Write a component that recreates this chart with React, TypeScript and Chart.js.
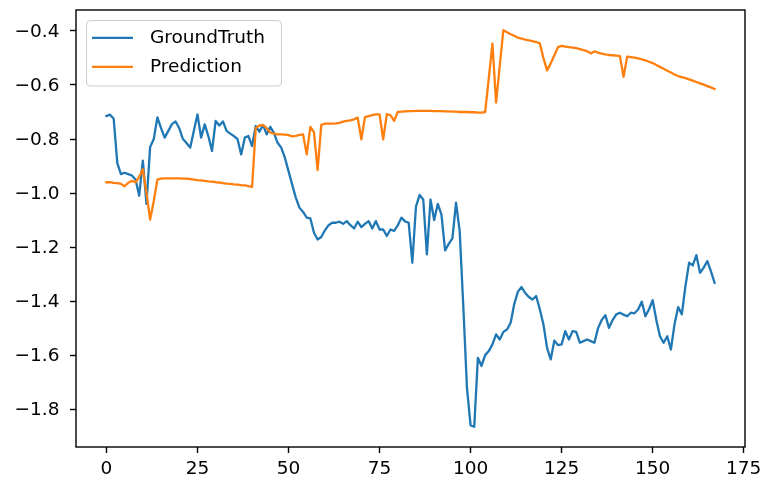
import React, { useEffect, useRef } from "react";
import { Chart, registerables } from "chart.js";

Chart.register(...registerables);

// ---- data ----
const seriesNames = ["GroundTruth", "Prediction"];
const seriesColors = ["#1f77b4", "#ff7f0e"];

const groundTruth = [
  -0.715, -0.710, -0.725, -0.890, -0.930, -0.925, -0.930, -0.935, -0.950, -1.010,
  -0.880, -1.040, -0.830, -0.800, -0.720, -0.760, -0.795, -0.770, -0.745, -0.735,
  -0.760, -0.800, -0.815, -0.832, -0.770, -0.709, -0.795, -0.746, -0.790, -0.844,
  -0.733, -0.750, -0.735, -0.770, -0.780, -0.789, -0.800, -0.857, -0.795, -0.789,
  -0.826, -0.752, -0.773, -0.748, -0.783, -0.755, -0.777, -0.814, -0.832, -0.869,
  -0.919, -0.968, -1.017, -1.054, -1.070, -1.091, -1.094, -1.147, -1.172, -1.163,
  -1.138, -1.119, -1.110, -1.110, -1.106, -1.114, -1.104, -1.119, -1.131, -1.106,
  -1.126, -1.114, -1.104, -1.131, -1.104, -1.135, -1.135, -1.159, -1.135, -1.140,
  -1.120, -1.091, -1.105, -1.110, -1.258, -1.050, -1.007, -1.024, -1.227, -1.024,
  -1.100, -1.040, -1.080, -1.212, -1.188, -1.168, -1.036, -1.140, -1.420, -1.720,
  -1.860, -1.865, -1.610, -1.640, -1.600, -1.585, -1.560, -1.523, -1.542, -1.514,
  -1.505, -1.480, -1.410, -1.365, -1.348, -1.370, -1.385, -1.394, -1.381, -1.430,
  -1.486, -1.573, -1.616, -1.546, -1.563, -1.560, -1.511, -1.542, -1.511, -1.514,
  -1.554, -1.548, -1.542, -1.548, -1.554, -1.500, -1.470, -1.452, -1.499, -1.470,
  -1.449, -1.443, -1.450, -1.456, -1.443, -1.445, -1.431, -1.402, -1.456, -1.430,
  -1.397, -1.470, -1.530, -1.554, -1.530, -1.579, -1.486, -1.422, -1.449, -1.344,
  -1.258, -1.268, -1.230, -1.295, -1.276, -1.252, -1.290, -1.332,
];

const prediction = [
  -0.960, -0.960, -0.962, -0.963, -0.966, -0.975, -0.962, -0.955, -0.960, -0.940,
  -0.912, -1.000, -1.098, -1.030, -0.950, -0.947, -0.946, -0.946, -0.946, -0.946,
  -0.946, -0.947, -0.947, -0.948, -0.950, -0.952, -0.953, -0.955, -0.957, -0.958,
  -0.960, -0.961, -0.963, -0.965, -0.966, -0.968, -0.969, -0.971, -0.972, -0.974,
  -0.977, -0.760, -0.750, -0.748, -0.760, -0.776, -0.780, -0.783, -0.783, -0.784,
  -0.786, -0.790, -0.788, -0.785, -0.783, -0.857, -0.755, -0.775, -0.915, -0.748,
  -0.743, -0.743, -0.743, -0.742, -0.740, -0.736, -0.733, -0.731, -0.727, -0.721,
  -0.801, -0.719, -0.715, -0.712, -0.709, -0.709, -0.801, -0.708, -0.712, -0.733,
  -0.700, -0.699, -0.698, -0.697, -0.697, -0.696, -0.696, -0.696, -0.696, -0.696,
  -0.697, -0.697, -0.697, -0.698, -0.698, -0.699, -0.699, -0.700, -0.700, -0.700,
  -0.701, -0.701, -0.702, -0.702, -0.700, -0.575, -0.447, -0.665, -0.530, -0.397,
  -0.405, -0.412, -0.418, -0.425, -0.428, -0.432, -0.435, -0.438, -0.441, -0.446,
  -0.500, -0.546, -0.520, -0.490, -0.460, -0.455, -0.458, -0.460, -0.462, -0.464,
  -0.467, -0.471, -0.475, -0.483, -0.476, -0.480, -0.484, -0.487, -0.489, -0.490,
  -0.491, -0.493, -0.570, -0.495, -0.497, -0.499, -0.502, -0.505, -0.509, -0.514,
  -0.519, -0.526, -0.533, -0.540, -0.547, -0.554, -0.561, -0.567, -0.571, -0.575,
  -0.579, -0.584, -0.589, -0.594, -0.599, -0.604, -0.609, -0.615,
];

const xTicks = [0, 25, 50, 75, 100, 125, 150, 175];
const yTicks = [-1.8, -1.6, -1.4, -1.2, -1.0, -0.8, -0.6, -0.4];

const FONT = '"DejaVu Sans", "Liberation Sans", sans-serif';
const FONT_SIZE = 18.5;

const framePlugin = {
  id: "frame",
  afterDraw(chart: any) {
    const { ctx, chartArea } = chart;
    ctx.save();
    ctx.strokeStyle = "#000";
    ctx.lineWidth = 1.4;
    ctx.strokeRect(chartArea.left, chartArea.top, chartArea.right - chartArea.left, chartArea.bottom - chartArea.top);
    ctx.restore();
  },
};

const legendPlugin = {
  id: "mplLegend",
  afterDraw(chart: any) {
    const ctx = chart.ctx;
    ctx.save();
    const x = 86.5, y = 20.5, w = 195, h = 65.5, r = 4;
    ctx.beginPath();
    ctx.moveTo(x + r, y);
    ctx.lineTo(x + w - r, y);
    ctx.quadraticCurveTo(x + w, y, x + w, y + r);
    ctx.lineTo(x + w, y + h - r);
    ctx.quadraticCurveTo(x + w, y + h, x + w - r, y + h);
    ctx.lineTo(x + r, y + h);
    ctx.quadraticCurveTo(x, y + h, x, y + h - r);
    ctx.lineTo(x, y + r);
    ctx.quadraticCurveTo(x, y, x + r, y);
    ctx.closePath();
    ctx.fillStyle = "rgba(255,255,255,0.8)";
    ctx.fill();
    ctx.strokeStyle = "#cccccc";
    ctx.lineWidth = 1;
    ctx.stroke();
    const rows = [37.8, 66.8];
    seriesNames.forEach((name, i) => {
      ctx.strokeStyle = seriesColors[i];
      ctx.lineWidth = 2.3;
      ctx.lineCap = "butt";
      ctx.beginPath();
      ctx.moveTo(92, rows[i]);
      ctx.lineTo(133, rows[i]);
      ctx.stroke();
      ctx.fillStyle = "#000";
      ctx.font = `${FONT_SIZE}px ${FONT}`;
      ctx.textBaseline = "middle";
      ctx.textAlign = "left";
      ctx.fillText(name, 150, rows[i]);
    });
    ctx.restore();
  },
};

function fmtY(v: number) {
  const s = Math.abs(v).toFixed(1);
  return v < 0 ? "\u2212" + s : s;
}

export default function App() {
  const ref = useRef<HTMLCanvasElement | null>(null);
  useEffect(() => {
    if (!ref.current) return;
    const chart = new Chart(ref.current, {
      type: "line",
      data: {
        datasets: [
          {
            label: seriesNames[0],
            data: groundTruth.map((v, i) => ({ x: i, y: v })),
            borderColor: seriesColors[0],
            backgroundColor: seriesColors[0],
            borderWidth: 2.3,
            pointRadius: 0,
            tension: 0,
            borderJoinStyle: "round",
            borderCapStyle: "square",
            order: 1,
          },
          {
            label: seriesNames[1],
            data: prediction.map((v, i) => ({ x: i, y: v })),
            borderColor: seriesColors[1],
            backgroundColor: seriesColors[1],
            borderWidth: 2.3,
            pointRadius: 0,
            tension: 0,
            borderJoinStyle: "round",
            borderCapStyle: "square",
            order: 0,
          },
        ],
      },
      options: {
        animation: false,
        responsive: false,
        devicePixelRatio: 1,
        layout: { padding: { left: 0, right: 19, top: 10, bottom: 0 } },
        plugins: { legend: { display: false }, tooltip: { enabled: false } },
        scales: {
          x: {
            type: "linear",
            position: "bottom",
            min: -8.35,
            max: 175.35,
            afterBuildTicks: (scale: any) => {
              scale.ticks = xTicks.map((v) => ({ value: v }));
            },
            afterFit: (scale: any) => {
              scale.height = 33;
              scale.paddingLeft = 0;
              scale.paddingRight = 0;
            },
            grid: {
              display: true,
              drawOnChartArea: false,
              drawTicks: true,
              tickLength: 6,
              tickWidth: 1.4,
              tickColor: "#000",
            },
            border: { display: false },
            ticks: {
              font: { family: FONT, size: FONT_SIZE },
              color: "#000",
              padding: 5,
              maxRotation: 0,
              autoSkip: false,
              callback: (v: any) => String(v),
            },
          },
          y: {
            type: "linear",
            position: "left",
            min: -1.94,
            max: -0.3225,
            afterBuildTicks: (scale: any) => {
              scale.ticks = yTicks.map((v) => ({ value: v }));
            },
            afterFit: (scale: any) => {
              scale.width = 76;
              scale.paddingTop = 0;
              scale.paddingBottom = 0;
            },
            grid: {
              display: true,
              drawOnChartArea: false,
              drawTicks: true,
              tickLength: 6,
              tickWidth: 1.4,
              tickColor: "#000",
            },
            border: { display: false },
            ticks: {
              font: { family: FONT, size: FONT_SIZE },
              color: "#000",
              padding: 10.5,
              labelOffset: 1.5,
              autoSkip: false,
              callback: (v: any) => fmtY(Number(v)),
            },
          },
        },
      },
      plugins: [framePlugin, legendPlugin],
    } as any);
    return () => chart.destroy();
  }, []);
  return (
    <div style={{ position: "absolute", left: 0, top: 0, width: 764, height: 480, background: "#fff" }}>
      <canvas ref={ref} width={764} height={480} style={{ display: "block" }} />
    </div>
  );
}
